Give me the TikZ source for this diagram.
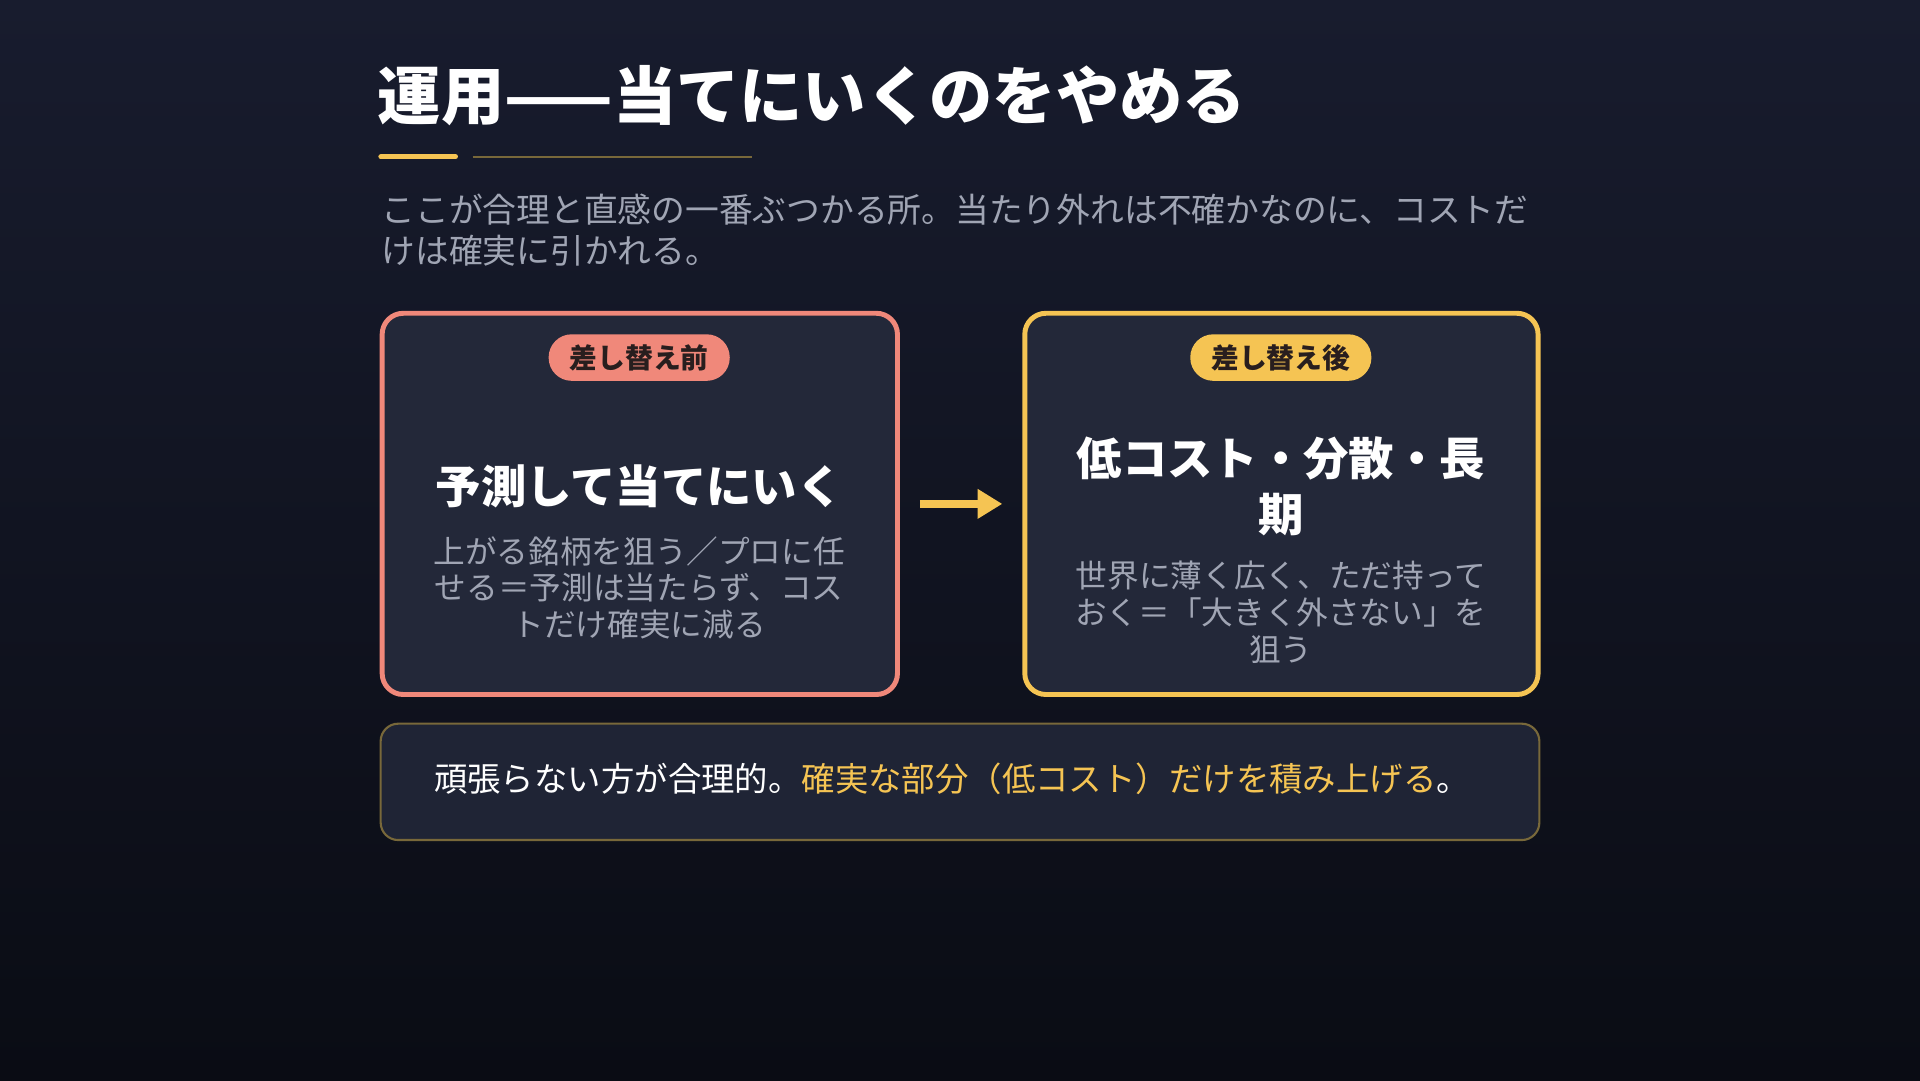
\documentclass[tikz,border=0pt]{standalone}
\usepackage{fontspec}
\setmainfont{Noto Sans CJK JP}
\usetikzlibrary{positioning,arrows.meta}
\definecolor{bgTop}{RGB}{24,28,46}
\definecolor{bgBot}{RGB}{10,12,20}
\definecolor{cardFill}{RGB}{35,40,57}
\definecolor{noteFill}{RGB}{31,36,53}
\definecolor{redEdge}{RGB}{240,136,122}
\definecolor{goldEdge}{RGB}{245,196,83}
\definecolor{oliveLine}{RGB}{120,104,58}
\definecolor{greyText}{RGB}{160,165,180}
\definecolor{darkText}{RGB}{40,30,30}
\tikzset{
  card/.style={draw, line width=1.4pt, rounded corners=6pt, fill=cardFill,
    minimum width=5.15cm, minimum height=3.81cm},
  badge/.style={rounded corners=2.3mm, minimum width=1.81cm, minimum height=0.465cm,
    inner sep=0pt, font=\fontsize{7.9}{9}\selectfont\bfseries, text=darkText},
  head/.style={text=white, font=\fontsize{12.9}{16}\selectfont\bfseries, align=center},
  desc/.style={text=greyText, font=\fontsize{9}{10.4}\selectfont, align=center},
}
\begin{document}
\begin{tikzpicture}[x=0.012245cm, y=-0.012245cm]
\shade[top color=bgTop, bottom color=bgBot] (0,0) rectangle (1568,882);
\useasboundingbox (0,0) rectangle (1568,882);
% title
\node[anchor=west, inner sep=0pt, text=white, font=\fontsize{18}{20}\selectfont\bfseries] (title) at (308,78) {運用——当てにいくのをやめる};
\draw[goldEdge, line width=1.4pt, line cap=round] (311,128) -- (372,128);
\draw[oliveLine, line width=0.5pt] (386,128) -- (614,128);
\node[anchor=north west, inner sep=0pt, text=greyText, align=left, font=\fontsize{9.6}{11.6}\selectfont] (intro) at (311,158)
  {ここが合理と直感の一番ぶつかる所。当たり外れは不確かなのに、コストだ\\けは確実に引かれる。};
% cards
\node[card, draw=redEdge] (before) at (522.5,411.5) {};
\node[card, draw=goldEdge, minimum width=5.13cm] (after) at (1046.5,411.5) {};
\node[badge, fill=redEdge] (badgeL) at (522,292) {差し替え前};
\node[badge, fill=goldEdge] (badgeR) at (1046,292) {差し替え後};
\node[head] (headL) at (522,397) {予測して当てにいく};
\node[desc] (descL) at (522,480) {上がる銘柄を狙う／プロに任\\せる＝予測は当たらず、コス\\トだけ確実に減る};
\node[head] (headR) at (1046,397) {低コスト・分散・長\\期};
\node[desc] (descR) at (1046,500) {世界に薄く広く、ただ持って\\おく＝「大きく外さない」を\\狙う};
\draw[goldEdge, line width=2.2pt, -{Triangle[length=7pt,width=8pt]}, shorten <=0.2cm, shorten >=0.2cm] (before.east) -- (after.west);
% takeaway
\node[draw=oliveLine, line width=0.6pt, rounded corners=5pt, fill=noteFill,
  minimum width=11.58cm, minimum height=1.163cm] (note) at (784,638.5) {};
\node[anchor=west, inner sep=0pt, text=white, font=\fontsize{9.5}{11}\selectfont] (noteText) at (354,636)
  {頑張らない方が合理的。\textcolor{goldEdge}{確実な部分（低コスト）だけを積み上げる}。};
\end{tikzpicture}
\end{document}
